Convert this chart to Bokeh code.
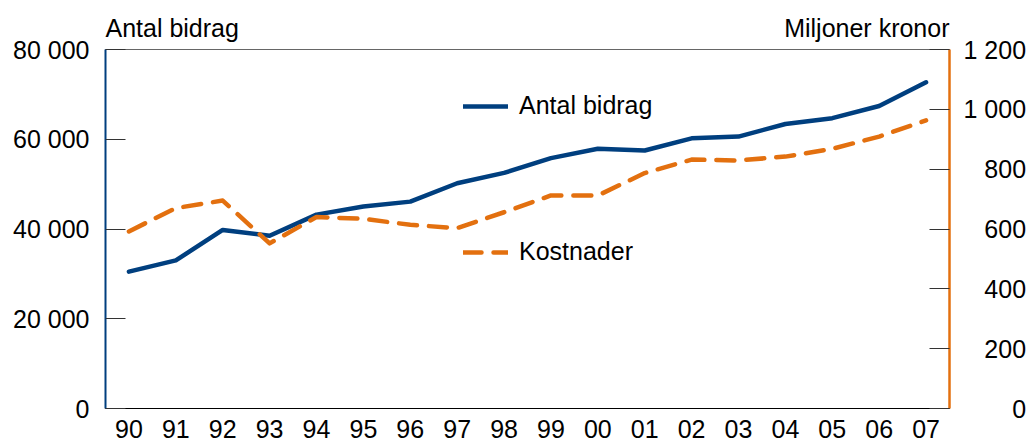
from bokeh.plotting import figure
from bokeh.models import (ColumnDataSource, Range1d, LinearAxis, FixedTicker,
                          Legend, LegendItem)
from bokeh.embed import file_html
from bokeh.resources import INLINE

# ---- data ----
years = ["90", "91", "92", "93", "94", "95", "96", "97", "98", "99",
         "00", "01", "02", "03", "04", "05", "06", "07"]
antal_bidrag = [30500, 33000, 39800, 38500, 43200, 45000, 46100, 50200, 52500,
                55800, 57900, 57500, 60200, 60600, 63400, 64700, 67400, 72700]
kostnader = [592, 670, 695, 552, 640, 634, 614, 603, 656,
             712, 712, 787, 832, 829, 842, 868, 909, 963]
left_ticks = [0, 20000, 40000, 60000, 80000]
left_labels = ["0", "20 000", "40 000", "60 000", "80 000"]
right_ticks = [0, 200, 400, 600, 800, 1000, 1200]
right_labels = ["0", "200", "400", "600", "800", "1 000", "1 200"]
left_title = "Antal bidrag"
right_title = "Miljoner kronor"
series_names = ["Antal bidrag", "Kostnader"]

BLUE = "#003f7f"
ORANGE = "#e3700f"
FONT = "Liberation Sans"
FS = "25px"
PX = 25

FRAME_W = 844
FRAME_H = 359

# category slots: each year gets one unit-wide slot, point at slot centre
x_pos = [i + 0.5 for i in range(len(years))]

# right-aligned look for the right axis labels: pad with figure/punctuation spaces
def _pad(lbl, ref):
    nd = sum(c.isdigit() for c in lbl)
    ns = lbl.count(" ")
    md = sum(c.isdigit() for c in ref)
    ms = ref.count(" ")
    return "\u2007" * (md - nd) + "\u2008" * (ms - ns) + lbl

widest = max(right_labels, key=len)
right_labels_padded = [_pad(l, widest) for l in right_labels]

# approximate text widths (Arial metrics) to place the two header texts
_W = {"A": .667, "M": .833, "n": .556, "t": .278, "a": .556, "l": .222, " ": .278, "b": .556,
      "i": .222, "d": .556, "r": .333, "g": .556, "j": .222, "o": .556, "e": .556, "k": .5}
def _tw(s):
    return sum(_W.get(c, .556) for c in s) * PX

src = ColumnDataSource(dict(x=x_pos, antal=antal_bidrag, kost=kostnader))

p = figure(width=1031, height=441, x_range=Range1d(0, len(years)),
           y_range=Range1d(0, 80000), output_backend="svg", toolbar_location=None,
           min_border_left=105, min_border_right=82, min_border_top=49, min_border_bottom=33)
p.extra_y_ranges = {"kr": Range1d(0, 1200)}
p.extra_x_ranges = {"hdr": Range1d(0, FRAME_W)}
p.xgrid.visible = False
p.ygrid.visible = False
p.outline_line_color = "#666666"
p.outline_line_width = 1
p.background_fill_color = "white"
p.border_fill_color = "white"

# left axis
ya = p.yaxis[0]
ya.ticker = FixedTicker(ticks=left_ticks)
ya.major_label_overrides = {t: l for t, l in zip(left_ticks, left_labels)}
ya.major_tick_in = 20
ya.major_tick_out = 0
ya.minor_tick_in = 0
ya.minor_tick_out = 0
ya.major_tick_line_color = "#333333"
ya.axis_line_color = BLUE
ya.axis_line_width = 2
ya.major_label_text_font = FONT
ya.major_label_text_font_size = FS
ya.major_label_text_color = "black"
ya.major_label_standoff = 16

# right axis
ra = LinearAxis(y_range_name="kr", ticker=FixedTicker(ticks=right_ticks),
                major_label_overrides={t: l for t, l in zip(right_ticks, right_labels_padded)},
                major_tick_in=20, major_tick_out=0, minor_tick_in=0, minor_tick_out=0,
                major_tick_line_color="#333333", axis_line_color=ORANGE, axis_line_width=2.5,
                major_label_text_font=FONT, major_label_text_font_size=FS,
                major_label_text_color="black", major_label_standoff=14)
p.add_layout(ra, "right")

# x axis
xa = p.xaxis[0]
xa.ticker = FixedTicker(ticks=x_pos)
xa.major_label_overrides = {x: y for x, y in zip(x_pos, years)}
xa.major_tick_in = 0
xa.major_tick_out = 0
xa.minor_tick_in = 0
xa.minor_tick_out = 0
xa.axis_line_color = "black"
xa.axis_line_width = 1
xa.major_label_text_font = FONT
xa.major_label_text_font_size = FS
xa.major_label_text_color = "black"
xa.major_label_standoff = 11

# header texts (unit captions) above the frame
hdr_pos = [_tw(left_title) / 2, FRAME_W - _tw(right_title) / 2]
ha = LinearAxis(x_range_name="hdr", ticker=FixedTicker(ticks=hdr_pos),
                major_label_overrides={hdr_pos[0]: left_title, hdr_pos[1]: right_title},
                axis_line_color=None, major_tick_in=0, major_tick_out=0,
                minor_tick_in=0, minor_tick_out=0,
                major_label_text_font=FONT, major_label_text_font_size=FS,
                major_label_text_color="black", major_label_standoff=8)
p.add_layout(ha, "above")

# lines
r1 = p.line("x", "antal", source=src, line_color=BLUE, line_width=4.5,
            line_join="round", line_cap="round")
r2 = p.line("x", "kost", source=src, y_range_name="kr", line_color=ORANGE,
            line_width=4.5, line_dash="18 12", line_join="round", line_cap="round")

legend = Legend(items=[LegendItem(label=series_names[0], renderers=[r1]),
                       LegendItem(label=series_names[1], renderers=[r2])],
                location=(358, 142), spacing=117, padding=0, margin=0,
                glyph_width=45, glyph_height=20, label_standoff=11,
                label_text_font=FONT, label_text_font_size=FS, label_text_color="black",
                border_line_color=None, background_fill_alpha=0)
p.add_layout(legend)

open("out.html", "w").write(file_html(p, INLINE))
